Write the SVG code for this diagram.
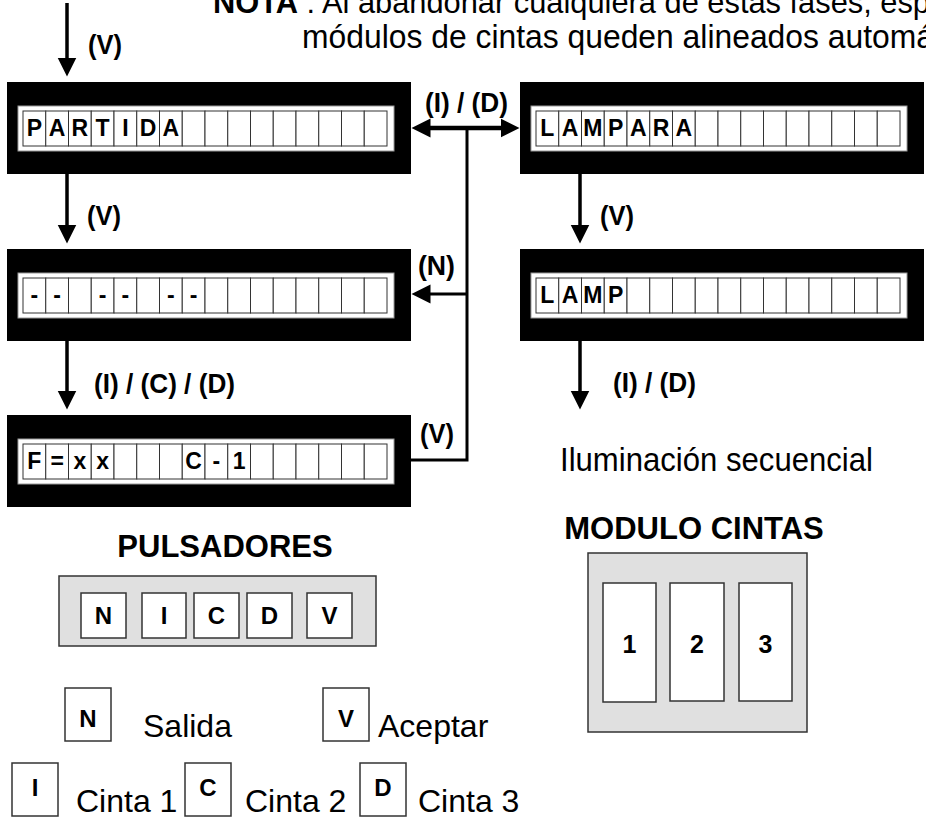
<svg xmlns="http://www.w3.org/2000/svg" xmlns:xlink="http://www.w3.org/1999/xlink" width="926" height="820" viewBox="0 0 926 820">
<style>
text{font-family:"Liberation Sans",Arial,Helvetica,sans-serif;fill:#000}
.lbl{font-size:28px;font-weight:bold}
.cell{font-size:23px;font-weight:bold;text-anchor:middle}
.reg{font-size:33px}
.leg{font-size:32px}
.title{font-size:31px;font-weight:bold;text-anchor:middle}
.key{font-size:24px;font-weight:bold;text-anchor:middle}
.num{font-size:25px;font-weight:bold;text-anchor:middle}
.arr{stroke:#000;stroke-width:3.5;fill:none}
.thin{stroke:#000;stroke-width:3;fill:none}
.btn{fill:#fff;stroke:#333;stroke-width:1.5}
.panel{fill:#e0e0e0;stroke:#333;stroke-width:1.5}
.c{fill:#fff;stroke:#333;stroke-width:1}
</style>
<defs>
<marker id="ah" markerUnits="userSpaceOnUse" markerWidth="20" markerHeight="20" refX="0.5" refY="9.5" orient="auto-start-reverse" viewBox="0 0 20 19">
<path d="M0,0 L19,9.5 L0,19 z" fill="#000"/>
</marker>
<g id="lcd">
<rect x="0" y="0" width="404" height="92" fill="#000"/>
<rect x="11" y="24" width="376" height="45" fill="#fff" stroke="#999" stroke-width="1"/>
<rect class="c" x="16" y="29" width="22.75" height="35"/>
<rect class="c" x="38.75" y="29" width="22.75" height="35"/>
<rect class="c" x="61.5" y="29" width="22.75" height="35"/>
<rect class="c" x="84.25" y="29" width="22.75" height="35"/>
<rect class="c" x="107" y="29" width="22.75" height="35"/>
<rect class="c" x="129.75" y="29" width="22.75" height="35"/>
<rect class="c" x="152.5" y="29" width="22.75" height="35"/>
<rect class="c" x="175.25" y="29" width="22.75" height="35"/>
<rect class="c" x="198" y="29" width="22.75" height="35"/>
<rect class="c" x="220.75" y="29" width="22.75" height="35"/>
<rect class="c" x="243.5" y="29" width="22.75" height="35"/>
<rect class="c" x="266.25" y="29" width="22.75" height="35"/>
<rect class="c" x="289" y="29" width="22.75" height="35"/>
<rect class="c" x="311.75" y="29" width="22.75" height="35"/>
<rect class="c" x="334.5" y="29" width="22.75" height="35"/>
<rect class="c" x="357.25" y="29" width="22.75" height="35"/>
</g>
</defs>

<g id="nota">
<text x="213" y="13" font-size="32" textLength="717" lengthAdjust="spacingAndGlyphs"><tspan font-weight="bold">NOTA</tspan> : Al abandonar cualquiera de estas fases, esp</text>
<text class="reg" x="302" y="48" textLength="632" lengthAdjust="spacingAndGlyphs">módulos de cintas queden alineados automá</text>
</g>

<g id="partida">
<use xlink:href="#lcd" x="7" y="82"/>
<text class="cell" y="136"><tspan x="34.4">P</tspan><tspan x="57.1">A</tspan><tspan x="79.9">R</tspan><tspan x="102.6">T</tspan><tspan x="125.4">I</tspan><tspan x="148.1">D</tspan><tspan x="170.9">A</tspan></text>
</g>

<g id="guiones">
<use xlink:href="#lcd" x="7" y="249"/>
<text class="cell" y="303"><tspan x="34.4">-</tspan><tspan x="57.1">-</tspan><tspan x="102.6">-</tspan><tspan x="125.4">-</tspan><tspan x="170.9">-</tspan><tspan x="193.6">-</tspan></text>
</g>

<g id="fase">
<use xlink:href="#lcd" x="7" y="415"/>
<text class="cell" y="469"><tspan x="34.4">F</tspan><tspan x="57.1">=</tspan><tspan x="79.9">x</tspan><tspan x="102.6">x</tspan><tspan x="193.6">C</tspan><tspan x="216.4">-</tspan><tspan x="239.1">1</tspan></text>
</g>

<g id="lampara">
<use xlink:href="#lcd" x="520" y="82"/>
<text class="cell" y="136"><tspan x="547.4">L</tspan><tspan x="570.1">A</tspan><tspan x="592.9">M</tspan><tspan x="615.6">P</tspan><tspan x="638.4">A</tspan><tspan x="661.1">R</tspan><tspan x="683.9">A</tspan></text>
</g>

<g id="lamp">
<use xlink:href="#lcd" x="520" y="249"/>
<text class="cell" y="303"><tspan x="547.4">L</tspan><tspan x="570.1">A</tspan><tspan x="592.9">M</tspan><tspan x="615.6">P</tspan></text>
</g>

<g id="iluminacion">
<text class="reg" x="560" y="471" textLength="313" lengthAdjust="spacingAndGlyphs">Iluminación secuencial</text>
</g>

<g id="connectors">
<line class="arr" x1="67" y1="3" x2="67" y2="58" marker-end="url(#ah)"/>
<line class="arr" x1="67" y1="174" x2="67" y2="225" marker-end="url(#ah)"/>
<line class="arr" x1="67" y1="341" x2="67" y2="391" marker-end="url(#ah)"/>
<line class="arr" x1="580" y1="174" x2="580" y2="225" marker-end="url(#ah)"/>
<line class="arr" x1="580" y1="341" x2="580" y2="391" marker-end="url(#ah)"/>
<line x1="430" y1="128" x2="501" y2="128" stroke="#000" stroke-width="4.5" marker-start="url(#ah)" marker-end="url(#ah)"/>
<polyline class="thin" points="411,460 467,460 467,128"/>
<line class="thin" x1="467" y1="294" x2="430" y2="294" marker-end="url(#ah)"/>
<text class="lbl" x="88" y="54" textLength="34" lengthAdjust="spacingAndGlyphs">(V)</text>
<text class="lbl" x="87" y="225" textLength="34" lengthAdjust="spacingAndGlyphs">(V)</text>
<text class="lbl" x="94" y="393" textLength="141" lengthAdjust="spacingAndGlyphs">(I) / (C) / (D)</text>
<text class="lbl" x="600" y="225" textLength="34" lengthAdjust="spacingAndGlyphs">(V)</text>
<text class="lbl" x="613" y="392" textLength="83" lengthAdjust="spacingAndGlyphs">(I) / (D)</text>
<text class="lbl" x="425" y="112" textLength="83" lengthAdjust="spacingAndGlyphs">(I) / (D)</text>
<text class="lbl" x="418" y="275" textLength="37" lengthAdjust="spacingAndGlyphs">(N)</text>
<text class="lbl" x="420" y="443" textLength="34" lengthAdjust="spacingAndGlyphs">(V)</text>
</g>

<g id="pulsadores">
<text class="title" x="225" y="557">PULSADORES</text>
<rect class="panel" x="59" y="576" width="317" height="70"/>
<rect class="btn" x="81" y="593" width="45" height="45"/>
<rect class="btn" x="142" y="593" width="44" height="45"/>
<rect class="btn" x="194" y="593" width="45" height="45"/>
<rect class="btn" x="247" y="593" width="45" height="45"/>
<rect class="btn" x="307" y="593" width="45" height="45"/>
<text class="key" y="624"><tspan x="103.5">N</tspan><tspan x="164">I</tspan><tspan x="216.5">C</tspan><tspan x="269.5">D</tspan><tspan x="329.5">V</tspan></text>
</g>

<g id="modulo">
<text class="title" x="694" y="539">MODULO CINTAS</text>
<rect class="panel" x="588" y="553" width="219" height="179"/>
<rect class="btn" x="603" y="583" width="53" height="119"/>
<rect class="btn" x="670" y="583" width="54" height="118"/>
<rect class="btn" x="739" y="583" width="53" height="118"/>
<text class="num" y="653"><tspan x="629.5">1</tspan><tspan x="697">2</tspan><tspan x="765.5">3</tspan></text>
</g>

<g id="leyenda">
<rect class="btn" x="65" y="688" width="46" height="53"/>
<text class="key" x="88" y="727">N</text>
<text class="leg" x="143" y="737">Salida</text>
<rect class="btn" x="323" y="688" width="46" height="53"/>
<text class="key" x="346" y="727">V</text>
<text class="leg" x="378" y="737">Aceptar</text>
<rect class="btn" x="12" y="763" width="46" height="53"/>
<text class="key" x="35" y="796">I</text>
<text class="leg" x="76" y="812">Cinta 1</text>
<rect class="btn" x="185" y="763" width="46" height="53"/>
<text class="key" x="208" y="796">C</text>
<text class="leg" x="245" y="812">Cinta 2</text>
<rect class="btn" x="360" y="763" width="46" height="53"/>
<text class="key" x="383" y="796">D</text>
<text class="leg" x="418" y="812">Cinta 3</text>
</g>
</svg>
